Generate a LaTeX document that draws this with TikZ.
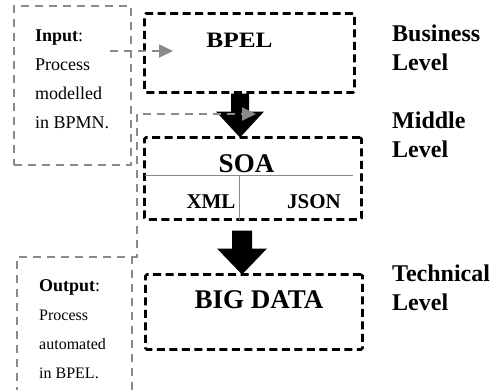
\documentclass[tikz,border=0pt]{standalone}
\usepackage{fontspec}
\setmainfont{Liberation Serif}
\usetikzlibrary{arrows.meta}
\definecolor{dashgray}{HTML}{8A8A8A}

\begin{document}
\begin{tikzpicture}[x=1pt,y=-1pt,
  level/.style={draw,line width=2.6pt,dash pattern=on 8pt off 4.5pt,rounded corners=1.5pt,inner sep=0,outer sep=0},
  note/.style={draw=dashgray,line width=1.8pt,dash pattern=on 8pt off 6pt,inner sep=0,outer sep=0},
  feed/.style={dashgray,line width=1.8pt,dash pattern=on 8pt off 6pt,-{Triangle[length=14pt,width=13pt]}},
  tag/.style={font=\bfseries\fontsize{24}{29}\selectfont,align=left,anchor=base west,inner sep=0},
  notetext/.style={align=left,anchor=base west,inner sep=0},
  boxtext/.style={inner sep=0,font=\bfseries\fontsize{#1}{#1}\selectfont}]
\useasboundingbox (0,0) rectangle (503,389);
\clip (0,0) rectangle (503,389);
\node[note,minimum width=117,minimum height=159] (inbox) at (72.5,85.5) {};
\node[note,minimum width=115,minimum height=144] (outbox) at (74.5,329) {};
\node[notetext,font=\fontsize{18}{29}\selectfont] (intxt) at (35,128)
  {\textbf{Input}:\\Process\\modelled\\in BPMN.};
\node[notetext,font=\fontsize{16}{29}\selectfont] (outtxt) at (39,378)
  {{\fontsize{18}{29}\selectfont\textbf{Output}:}\\Process\\automated\\in BPEL.};
\node[level,minimum width=210,minimum height=79] (bpel) at (249.5,53) {};
\node[level,minimum width=217,minimum height=82] (soa) at (253,178.5) {};
\node[level,minimum width=217,minimum height=75] (bigdata) at (254,312) {};
\node[boxtext=22,xscale=1.15] (bpeltxt) at (239.5,40) {BPEL};
\node[boxtext=27] (soatxt) at (246.5,164) {SOA};
\node[boxtext=21] (xml) at (211,202) {XML};
\node[boxtext=21] (json) at (314,202) {JSON};
\node[boxtext=27] (bigtxt) at (259,300) {BIG DATA};
\draw[dashgray,line width=1pt] (soa.west |- 0,175) coordinate (split) -- (353,175);
\draw[dashgray,line width=1pt] (239,175) -- (239 ,0 |- soa.south);
\fill (240,0 |- soa.north) -- ++(-24,-26) -- ++(15,0) -- ++(0,-18) -- ++(18,0)
  -- ++(0,18) -- ++(15,0) -- cycle;
\fill (242,0 |- bigdata.north) -- ++(-25,-26) -- ++(15,0) -- ++(0,-18) -- ++(20,0)
  -- ++(0,18) -- ++(15,0) -- cycle;
\coordinate (inA) at (110,51);
\coordinate (inB) at (173,51);
\coordinate (outB) at (256,114);
\draw[feed] (inA) -- (inB);
\draw[feed] (outbox.north east) -- ++(5,0) |- (outB);
\node[tag] (business) at (392,70) {Business\\Level};
\node[tag] (middle) at (392,157) {Middle\\Level};
\node[tag] (technical) at (392,310) {Technical\\Level};
\end{tikzpicture}
\end{document}
